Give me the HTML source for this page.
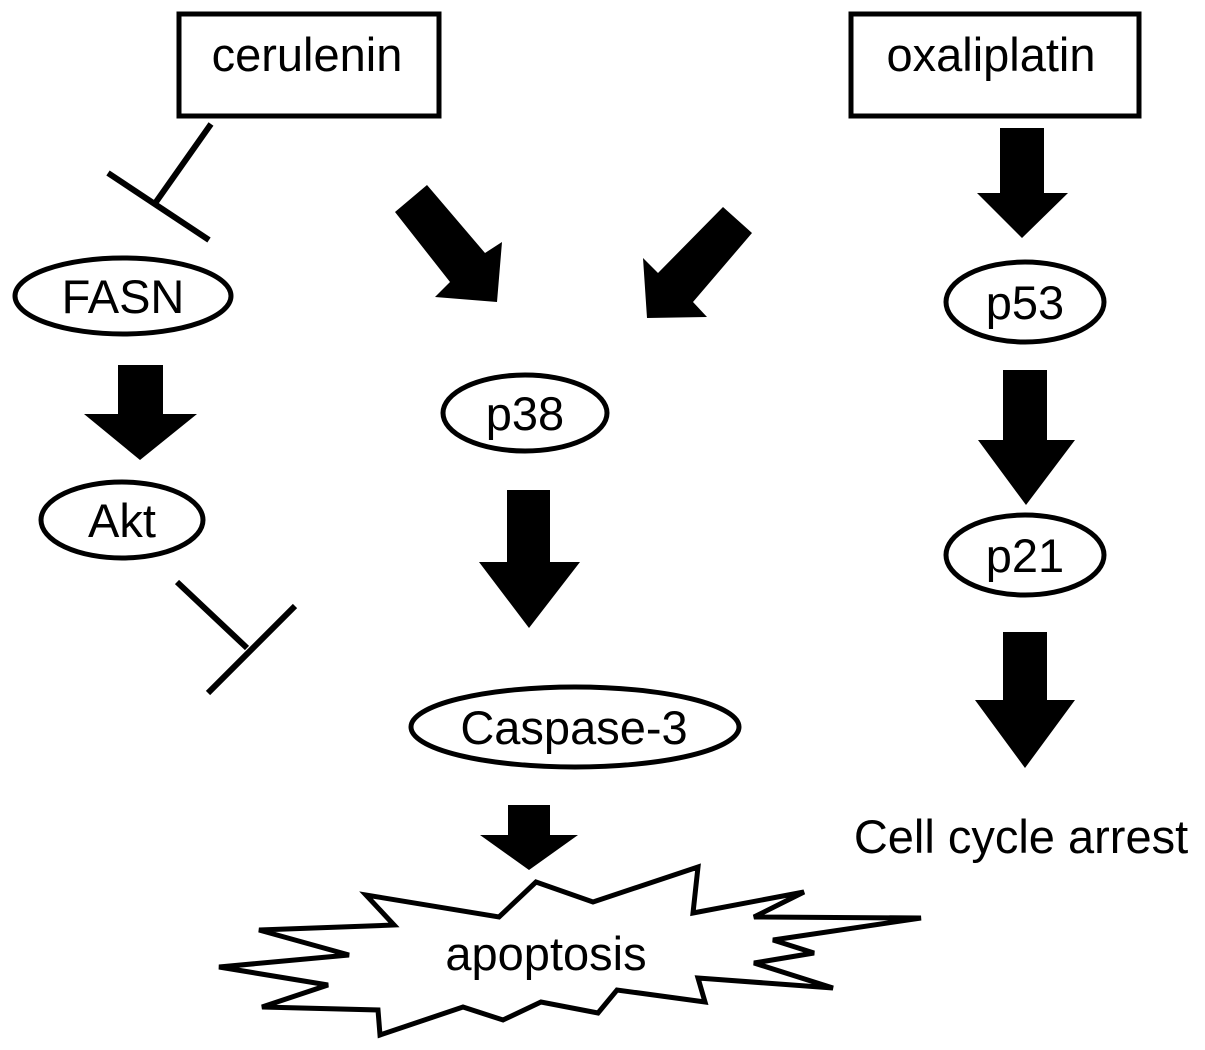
<!DOCTYPE html>
<html><head><meta charset="utf-8"><style>
html,body{margin:0;padding:0;background:#fff;}
svg{display:block;}
text{font-family:"Liberation Sans",Arial,sans-serif;font-size:47px;fill:#000;}
</style></head><body>
<svg width="1205" height="1050" viewBox="0 0 1205 1050" xmlns="http://www.w3.org/2000/svg">
<g fill="#fff" stroke="#000" stroke-width="5">
<rect x="179" y="14" width="260" height="102"/>
<rect x="851" y="14" width="288" height="102"/>
<ellipse cx="123" cy="296" rx="108" ry="38"/>
<ellipse cx="122" cy="520" rx="81" ry="38"/>
<ellipse cx="525" cy="413" rx="82" ry="38"/>
<ellipse cx="575" cy="727" rx="164" ry="40"/>
<ellipse cx="1025" cy="302" rx="79" ry="40"/>
<ellipse cx="1025" cy="555" rx="79" ry="40"/>
<polygon points="536,882 593,902 698,867 693,913 804,892 754,917 921,918 773,940 814,953 754,963 833,988 698,978 705,1002 617,990 598,1013 541,1002 503,1020 463,1007 380,1035 378,1010 262,1007 328,985 219,967 349,955 259,930 394,925 366,895 499,917"/>
</g>
<g stroke="#000" stroke-width="6" fill="none">
<line x1="211" y1="124" x2="156" y2="202"/>
<line x1="108" y1="173" x2="209" y2="240"/>
<line x1="177" y1="582" x2="247" y2="648"/>
<line x1="208" y1="693" x2="295" y2="606"/>
</g>
<g fill="#000">
<polygon points="395,212 427,185 485,253 502,242 497,302 435,297 450,282"/>
<polygon points="723,207 752,233 693,302 707,317 647,318 643,258 658,273"/>
<polygon points="118,365 163,365 163,414 197,414 140,460 84,414 118,414"/>
<polygon points="507,490 550,490 550,562 580,562 529,628 479,562 507,562"/>
<polygon points="1000,128 1044,128 1044,193 1068,193 1022,238 977,193 1000,193"/>
<polygon points="1003,370 1047,370 1047,440 1075,440 1026,505 978,440 1003,440"/>
<polygon points="1003,632 1047,632 1047,700 1075,700 1025,768 975,700 1003,700"/>
<polygon points="508,805 550,805 550,835 578,835 529,870 480,835 508,835"/>
</g>
<text x="307" y="71" text-anchor="middle">cerulenin</text>
<text x="991" y="71" text-anchor="middle">oxaliplatin</text>
<text x="123" y="313" text-anchor="middle">FASN</text>
<text x="122" y="537" text-anchor="middle">Akt</text>
<text x="525" y="430" text-anchor="middle">p38</text>
<text x="574" y="744" text-anchor="middle">Caspase-3</text>
<text x="1025" y="319" text-anchor="middle">p53</text>
<text x="1025" y="572" text-anchor="middle">p21</text>
<text x="1021" y="853" text-anchor="middle">Cell cycle arrest</text>
<text x="546" y="970" text-anchor="middle">apoptosis</text>
</svg>
</body></html>
